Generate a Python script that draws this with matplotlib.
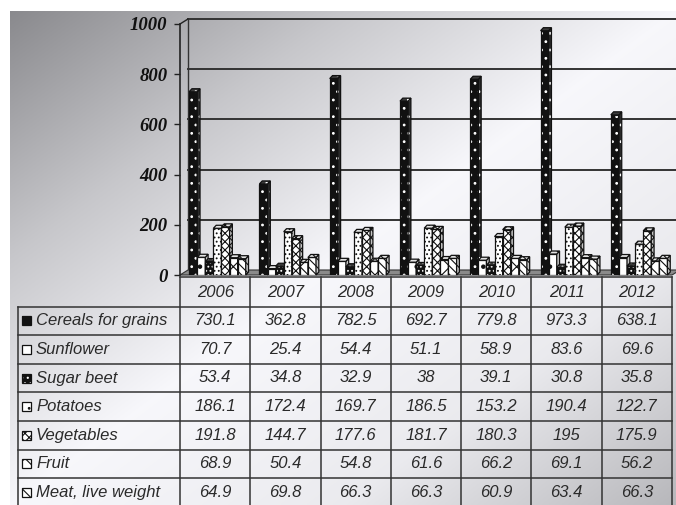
import numpy as np
import matplotlib
matplotlib.use("Agg")
import matplotlib.pyplot as plt
from matplotlib.patches import Polygon, Rectangle
from matplotlib.transforms import ScaledTranslation

# ---- data -------------------------------------------------------------
years = ["2006", "2007", "2008", "2009", "2010", "2011", "2012"]
series_names = ["Cereals for grains", "Sunflower", "Sugar beet", "Potatoes",
                "Vegetables", "Fruit", "Meat, live weight"]
cereals = [730.1, 362.8, 782.5, 692.7, 779.8, 973.3, 638.1]
sunflower = [70.7, 25.4, 54.4, 51.1, 58.9, 83.6, 69.6]
sugar_beet = [53.4, 34.8, 32.9, 38, 39.1, 30.8, 35.8]
potatoes = [186.1, 172.4, 169.7, 186.5, 153.2, 190.4, 122.7]
vegetables = [191.8, 144.7, 177.6, 181.7, 180.3, 195, 175.9]
fruit = [68.9, 50.4, 54.8, 61.6, 66.2, 69.1, 56.2]
meat = [64.9, 69.8, 66.3, 66.3, 60.9, 63.4, 66.3]
y_ticks = [0, 200, 400, 600, 800, 1000]

series = [cereals, sunflower, sugar_beet, potatoes, vegetables, fruit, meat]

# face colour, hatch colour, hatch pattern for each series
styles = [
    ("#111111", "white", ".."),
    ("white", "#111111", "."),
    ("#111111", "white", "...."),
    ("white", "#111111", "...."),
    ("white", "#111111", "xxxx"),
    ("white", "#111111", "xx"),
    ("white", "#111111", "\\\\\\\\"),
]
# legend keys use simpler patterns at their small size
key_hatches = ["", "", "...", "..", "xxxx", "xx", "\\\\\\"]

plt.rcParams["hatch.linewidth"] = 0.8

W, H = 676, 505
fig = plt.figure(figsize=(W / 100, H / 100), dpi=100)
fig.patch.set_facecolor("white")

# ---- background panel with diagonal gradient (pixel coordinates) ------
bg = fig.add_axes([0, 0, 1, 1], zorder=0)
bg.set_xlim(0, W)
bg.set_ylim(H, 0)
bg.axis("off")
x0p, y0p = 10, 11
xx, yy = np.meshgrid(np.linspace(0, 1, 300), np.linspace(0, 1, 240))
t = (xx + yy) / 2
val = np.interp(t, [0, 0.25, 0.5, 0.75, 1.0], [0.54, 0.78, 0.97, 0.92, 0.72])
img = np.dstack([val, val, np.clip(val + 0.015, 0, 1)])
bg.imshow(img, extent=(x0p, W, H, y0p), aspect="auto", interpolation="bilinear", zorder=0)

# ---- bar chart axes ---------------------------------------------------
ax_left, ax_right, ax_top, ax_bot = 180, 672, 24, 275
ax = fig.add_axes([ax_left / W, (H - ax_bot) / H, (ax_right - ax_left) / W,
                   (ax_bot - ax_top) / H], zorder=2)
ax.set_facecolor("none")
ax.set_xlim(0, 7)
ax.set_ylim(0, 1000)
for s in ax.spines.values():
    s.set_visible(False)
ax.set_xticks([])
ax.set_yticks(y_ticks)
ax.set_yticklabels([str(v) for v in y_ticks], fontfamily="Liberation Serif",
                   fontweight="bold", fontstyle="italic", fontsize=13.5, color="#111")
ax.tick_params(axis="y", length=4, width=1.0, pad=5, color="#222")

# back wall offset (depth) in pixels
wall = ScaledTranslation(0.08, 0.05, fig.dpi_scale_trans)
wall_tr = ax.transData + wall
for v in y_ticks[1:]:
    ax.plot([0, 7.2], [v, v], color="#333", lw=1.4, transform=wall_tr,
            clip_on=False, zorder=1)
ax.plot([0, 0], [0, 1000], color="#333", lw=1.0, transform=wall_tr, clip_on=False, zorder=1)
# front axis line and connecting edges
ax.plot([0, 0], [0, 1000], color="#222", lw=1.2, clip_on=False, zorder=1.5)
dxw = 8 / 70.3
dyw = 5 * 1000 / 251
ax.plot([0, dxw], [1000, 1000 + dyw], color="#222", lw=1.0, clip_on=False, zorder=1.5)
# floor
ax.add_patch(Polygon([(0, 0), (7, 0), (7 + dxw, dyw), (dxw, dyw)], closed=True,
                     facecolor="#8a8a8a", edgecolor="#333", lw=0.8, zorder=1.2,
                     clip_on=False))

# ---- 3D-look bars ------------------------------------------------------
offset, bw = 0.13, 0.115
ddx, ddy = 0.04, 12


def face(verts, fc, hc, hatch, z, shade=None):
    col = shade if shade is not None else fc
    ax.add_patch(Polygon(verts, closed=True, facecolor=col, edgecolor=hc,
                         hatch=hatch, lw=0, zorder=z, clip_on=False))
    ax.add_patch(Polygon(verts, closed=True, facecolor="none", edgecolor="#111",
                         lw=0.9, zorder=z + 0.001, clip_on=False))


for j, (vals, (fc, hc, hatch)) in enumerate(zip(series, styles)):
    xs = np.arange(len(years)) + offset + j * bw
    z = 3 + j * 0.01
    ax.bar(xs, vals, width=bw, align="edge", color=fc, edgecolor=hc, hatch=hatch,
           lw=0, zorder=z)
    ax.bar(xs, vals, width=bw, align="edge", color="none", edgecolor="#111",
           lw=0.9, zorder=z + 0.001)
    side_col = "#2a2a2a" if fc != "white" else "#c4c4c4"
    top_col = "#3a3a3a" if fc != "white" else "#e2e2e2"
    for x, h in zip(xs, vals):
        x1 = x + bw
        face([(x1, 0), (x1, h), (x1 + ddx, h + ddy), (x1 + ddx, ddy)], fc, hc, hatch,
             z + 0.002, side_col)
        face([(x, h), (x1, h), (x1 + ddx, h + ddy), (x + ddx, h + ddy)], fc, hc, hatch,
             z + 0.003, top_col)

# ---- data table (pixel coordinates on the background axes) -------------
col_w = (ax_right - ax_left) / len(years)
head_top, head_bot = 276.5, 306.5
row_h = 28.6
tbl_left = 18
line_kw = dict(color="#333", lw=1.1, zorder=3)
txt_kw = dict(fontfamily="Liberation Sans", fontstyle="italic", fontsize=12,
              color="#2a2a2a", va="center", zorder=4)

n_rows = len(series_names)
bottom = head_bot + row_h * n_rows
bg.plot([ax_left, ax_right], [head_top, head_top], **line_kw)
for k in range(len(years) + 1):
    x = ax_left + k * col_w
    bg.plot([x, x], [head_top, bottom], **line_kw)
bg.plot([tbl_left, tbl_left], [head_bot, bottom], **line_kw)
for r in range(n_rows + 1):
    y = head_bot + r * row_h
    bg.plot([tbl_left, ax_right], [y, y], **line_kw)

for k, yr in enumerate(years):
    bg.text(ax_left + (k + 0.5) * col_w, (head_top + head_bot) / 2 + 1, yr,
            ha="center", **txt_kw)

for r, (name, vals, (fc, hc, _), kh) in enumerate(zip(series_names, series, styles,
                                                       key_hatches)):
    yc = head_bot + (r + 0.5) * row_h
    bg.add_patch(Rectangle((22, yc - 4.5), 9, 9, facecolor=fc, edgecolor=hc,
                           hatch=kh, lw=0, zorder=4))
    bg.add_patch(Rectangle((22, yc - 4.5), 9, 9, facecolor="none", edgecolor="#111",
                           lw=0.9, zorder=4.1))
    bg.text(36, yc, name, ha="left", **txt_kw)
    for k, v in enumerate(vals):
        bg.text(ax_left + (k + 0.5) * col_w, yc, f"{v:g}", ha="center", **txt_kw)

fig.savefig("out.png", dpi=100)
